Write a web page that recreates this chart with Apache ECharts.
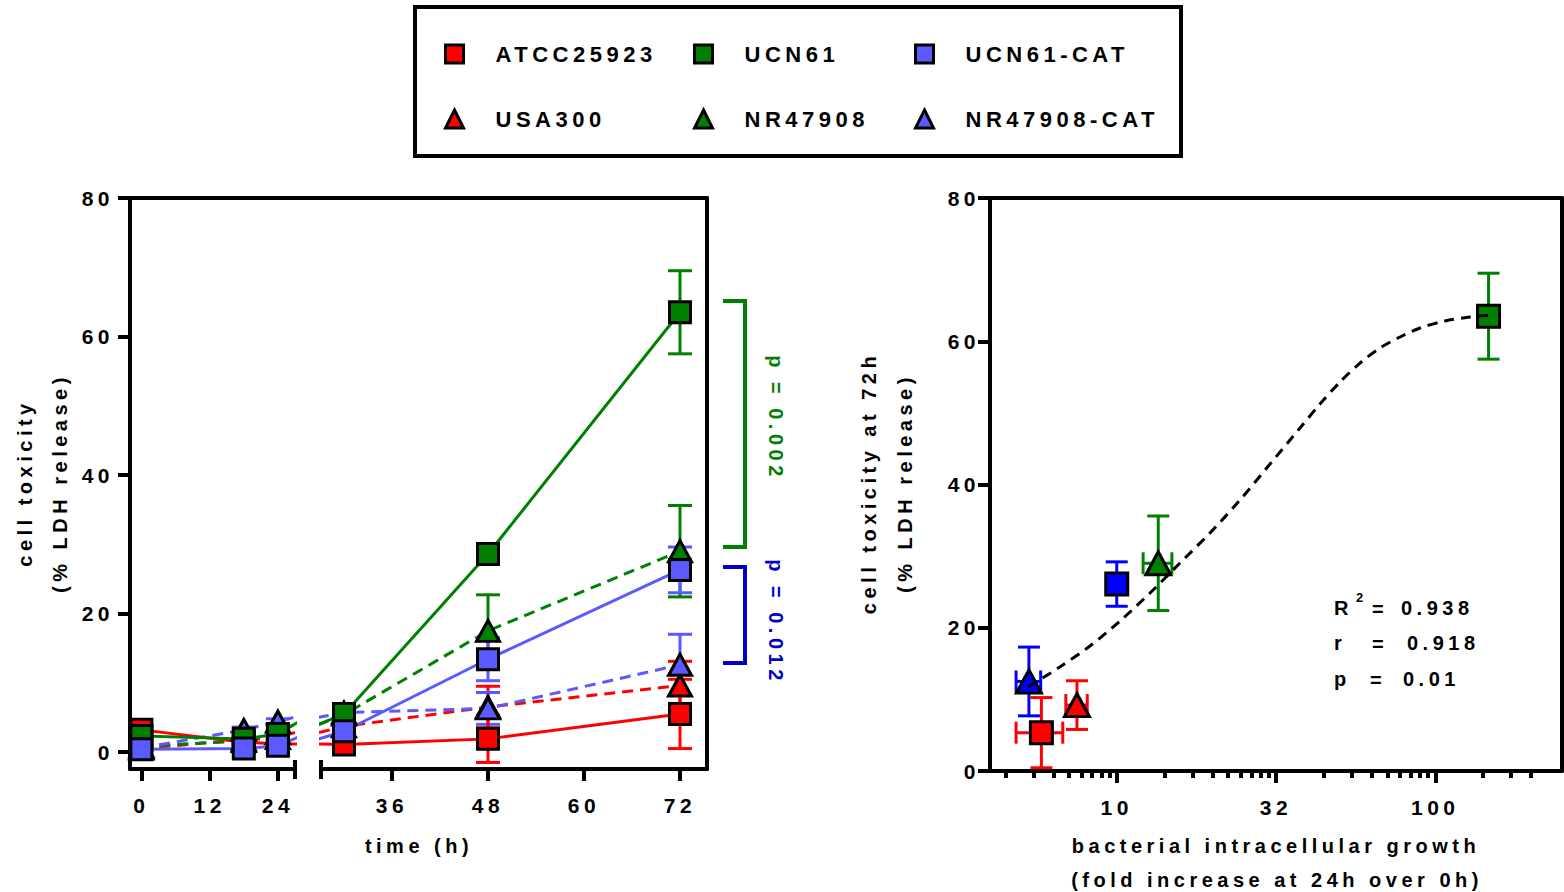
<!DOCTYPE html>
<html><head><meta charset="utf-8">
<script src="https://cdn.jsdelivr.net/npm/echarts@6/dist/echarts.min.js"></script>
<style>
html,body{margin:0;padding:0;background:#fff;}
#main{width:1564px;height:892px;}
#main text{letter-spacing:4.5px;}
</style></head><body><div id="main"></div>
<script>
// ---------------- DATA ----------------
const times = [0, 18, 24, 30, 48, 72];
const timeTicksLeft = [0, 12, 24];
const timeTicksRight = [36, 48, 60, 72];
const toxTicks = [0, 20, 40, 60, 80];

const atcc = [3.2, 1.4, 1.2, 1.1, 1.9, 5.5];
const atccErr = [0.6, 0.4, 0.4, 0.4, 3.4, 5.0];
const ucn61 = [2.3, 1.9, 2.6, 5.5, 28.6, 63.5];
const ucn61Err = [0.5, 0.4, 0.5, 1.3, 1.0, 6.0];
const ucn61cat = [0.4, 0.5, 0.9, 3.0, 13.4, 26.3];
const ucn61catErr = [0.3, 0.3, 0.3, 0.5, 3.1, 3.3];
const usa300 = [0.5, 1.8, 2.0, 3.7, 6.5, 9.6];
const usa300Err = [0.3, 0.4, 0.4, 0.6, 3.0, 3.5];
const nr47908 = [0.85, 1.6, 2.7, 5.4, 17.5, 29.0];
const nr47908Err = [0.3, 0.4, 0.5, 1.0, 5.2, 6.6];
const nr47908cat = [0.6, 3.2, 4.4, 5.7, 6.3, 12.6];
const nr47908catErr = [0.3, 0.4, 0.4, 0.5, 2.3, 4.4];

// right panel: fold increase (x) vs toxicity at 72h (y)
const rightNames = ['ATCC25923', 'USA300', 'NR47908-CAT', 'UCN61-CAT', 'NR47908', 'UCN61'];
const foldGrowth = [5.8, 7.5, 5.3, 10.0, 13.5, 147];
const foldGrowthErr = [0.97, 0.58, 0.47, 0.4, 1.4, 5];
const tox72 = [5.35, 9.2, 12.5, 26.1, 29.0, 63.5];
const tox72Err = [4.9, 3.4, 4.8, 3.1, 6.6, 6.0];
const growthTicks = [10, 31.62, 100];
const growthTickLabels = ['10', '32', '100'];

// fitted curve
const fitX = [5.27, 6.63, 8.24, 10.24, 12.72, 15.8, 19.62, 24.38, 30.29, 37.62, 43.46, 50.23, 58.05, 67.09, 77.52, 89.6, 107.3, 128.6, 146.5];
const fitY = [11.73, 14.52, 17.45, 20.94, 24.85, 29.04, 33.23, 37.84, 42.86, 47.89, 51.24, 54.31, 56.96, 59.06, 60.59, 61.85, 62.83, 63.38, 63.59];

const legendCols = [['ATCC25923', 'USA300'], ['UCN61', 'NR47908'], ['UCN61-CAT', 'NR47908-CAT']];

// ---------------- STYLE ----------------
const FONT = 'Liberation Sans';
const RED = '#FF0000', GREEN = '#008000', LBLUE = '#5A5AFF', DBLUE = '#0000FF';
const leftColor = {'ATCC25923': RED, 'USA300': RED, 'UCN61': GREEN, 'NR47908': GREEN, 'UCN61-CAT': LBLUE, 'NR47908-CAT': LBLUE};
const rightColor = {'ATCC25923': RED, 'USA300': RED, 'UCN61': GREEN, 'NR47908': GREEN, 'UCN61-CAT': DBLUE, 'NR47908-CAT': DBLUE};
const symOf = {'ATCC25923': 'rect', 'UCN61': 'rect', 'UCN61-CAT': 'rect', 'USA300': 'triangle', 'NR47908': 'triangle', 'NR47908-CAT': 'triangle'};

const leftSets = [
  {name: 'USA300', mean: usa300, err: usa300Err},
  {name: 'NR47908', mean: nr47908, err: nr47908Err},
  {name: 'NR47908-CAT', mean: nr47908cat, err: nr47908catErr},
  {name: 'ATCC25923', mean: atcc, err: atccErr},
  {name: 'UCN61', mean: ucn61, err: ucn61Err},
  {name: 'UCN61-CAT', mean: ucn61cat, err: ucn61catErr}
];

const minorTicks = [];
for (let k = 1; k <= 4; k++) for (let m = 2; m <= 9; m++) {
  const v = Math.pow(10, k / 2) * Math.sqrt(m);
  if (v > 4 && v <= 201) minorTicks.push(v);
}

function yErr(capHalf, lw) {
  return function (params, api) {
    const x = api.value(0), y = api.value(1), e = api.value(2);
    const p = api.coord([x, y]), t = api.coord([x, y + e]), b = api.coord([x, y - e]);
    const st = {stroke: api.visual('color'), lineWidth: lw, fill: null};
    return {type: 'group', children: [
      {type: 'line', shape: {x1: p[0], y1: t[1], x2: p[0], y2: b[1]}, style: st},
      {type: 'line', shape: {x1: p[0] - capHalf, y1: t[1], x2: p[0] + capHalf, y2: t[1]}, style: st},
      {type: 'line', shape: {x1: p[0] - capHalf, y1: b[1], x2: p[0] + capHalf, y2: b[1]}, style: st}
    ]};
  };
}
function xErr(capHalf, lw) {
  return function (params, api) {
    const x = api.value(0), y = api.value(1), e = api.value(2);
    const p = api.coord([x, y]), l = api.coord([x - e, y]), r = api.coord([x + e, y]);
    const st = {stroke: api.visual('color'), lineWidth: lw, fill: null};
    return {type: 'group', children: [
      {type: 'line', shape: {x1: l[0], y1: p[1], x2: r[0], y2: p[1]}, style: st},
      {type: 'line', shape: {x1: l[0], y1: p[1] - capHalf, x2: l[0], y2: p[1] + capHalf}, style: st},
      {type: 'line', shape: {x1: r[0], y1: p[1] - capHalf, x2: r[0], y2: p[1] + capHalf}, style: st}
    ]};
  };
}

const axisLine = {show: true, onZero: false, lineStyle: {color: '#000', width: 4, cap: 'round'}};
const noTick = {show: false};
const noLabel = {show: false};
const noSplit = {show: false};
const lbl = {color: '#000', fontFamily: FONT, fontWeight: 'bold', fontSize: 21};
const tickStyle = {color: '#000', width: 4};

// ---------------- SERIES ----------------
const series = [];
[0, 1].forEach(g => leftSets.forEach(s => {
  const pts = times.map((t, i) => [t, s.mean[i]]).filter(p => g === 0 ? p[0] <= 27 : p[0] >= 27);
  series.push({
    type: 'scatter', name: s.name, xAxisIndex: g, yAxisIndex: g, data: pts,
    symbol: symOf[s.name], symbolSize: symOf[s.name] === 'rect' ? [21, 21] : [23, 21],
    itemStyle: {color: leftColor[s.name], borderColor: '#000', borderWidth: 3, opacity: 1},
    z: 5, silent: true
  });
}));
[0, 1].forEach(g => leftSets.forEach(s => {
  series.push({
    type: 'line', name: s.name, xAxisIndex: g, yAxisIndex: g,
    data: times.map((t, i) => [t, s.mean[i]]),
    symbol: 'none', showSymbol: false, clip: true,
    lineStyle: {color: leftColor[s.name], width: 3, type: symOf[s.name] === 'triangle' ? [11, 7] : 'solid'},
    z: 2, silent: true
  });
  const epts = times.map((t, i) => [t, s.mean[i], s.err[i]]).filter(p => g === 0 ? p[0] <= 27 : p[0] >= 27);
  series.push({
    type: 'custom', name: s.name, xAxisIndex: g, yAxisIndex: g, data: epts,
    encode: {x: 0, y: 1}, renderItem: yErr(12, 3),
    itemStyle: {color: leftColor[s.name]}, z: 3, silent: true
  });
}));
rightNames.forEach((n, i) => {
  series.push({
    type: 'custom', name: n, xAxisIndex: 3, yAxisIndex: 3,
    data: [[foldGrowth[i], tox72[i], tox72Err[i]]], encode: {x: 0, y: 1},
    renderItem: yErr(11, 3), itemStyle: {color: rightColor[n]}, z: 3, silent: true
  });
  series.push({
    type: 'custom', name: n, xAxisIndex: 3, yAxisIndex: 3,
    data: [[foldGrowth[i], tox72[i], foldGrowthErr[i]]], encode: {x: 0, y: 1},
    renderItem: xErr(11, 3), itemStyle: {color: rightColor[n]}, z: 3, silent: true
  });
  series.push({
    type: 'scatter', name: n, xAxisIndex: 3, yAxisIndex: 3,
    data: [[foldGrowth[i], tox72[i]]],
    symbol: symOf[n], symbolSize: symOf[n] === 'rect' ? [22, 22] : [25, 23],
    itemStyle: {color: rightColor[n], borderColor: '#000', borderWidth: 3, opacity: 1},
    z: 5, silent: true
  });
});
series.push({
  type: 'line', name: 'fit', xAxisIndex: 3, yAxisIndex: 3,
  data: fitX.map((x, i) => [x, fitY[i]]), smooth: 0.3,
  symbol: 'none', showSymbol: false,
  lineStyle: {color: '#000', width: 3, type: [10, 7]}, z: 6, silent: true
});

// ---------------- TEXT / ANNOTATIONS ----------------
const tf = (size) => ({fontFamily: FONT, fontWeight: 'bold', fontSize: size});
function txt(x, y, text, opt) {
  opt = opt || {};
  return {type: 'text', x: x, y: y, rotation: opt.rot || 0, silent: true,
    style: Object.assign({text: text, fill: opt.fill || '#000', align: opt.align || 'center', verticalAlign: 'middle'}, tf(opt.size || 20))};
}
const graphic = [
  {type: 'rect', shape: {x: 415, y: 7, width: 766, height: 149}, style: {fill: null, stroke: '#000', lineWidth: 4}, silent: true},
  txt(25, 483, 'cell toxicity', {rot: Math.PI / 2}),
  txt(60, 483, '(% LDH release)', {rot: Math.PI / 2}),
  txt(419, 846, 'time (h)'),
  txt(869, 483, 'cell toxicity at 72h', {rot: Math.PI / 2}),
  txt(905, 483, '(% LDH release)', {rot: Math.PI / 2}),
  txt(1276, 846, 'bacterial intracellular growth'),
  txt(1277, 880, '(fold increase at 24h over 0h)'),
  txt(776, 418, 'p = 0.002', {rot: -Math.PI / 2, fill: GREEN}),
  txt(776, 622, 'p = 0.012', {rot: -Math.PI / 2, fill: '#0000C8'}),
  {type: 'polyline', shape: {points: [[723, 301], [745, 301], [745, 547], [723, 547]]}, style: {stroke: GREEN, lineWidth: 4, fill: null}, silent: true},
  {type: 'polyline', shape: {points: [[723, 567], [745, 567], [745, 663], [723, 663]]}, style: {stroke: '#0000C8', lineWidth: 4, fill: null}, silent: true},
  {type: 'line', shape: {x1: 295, y1: 760, x2: 295, y2: 779}, style: {stroke: '#000', lineWidth: 4}, silent: true},
  {type: 'line', shape: {x1: 321, y1: 760, x2: 321, y2: 779}, style: {stroke: '#000', lineWidth: 4}, silent: true},
  txt(1334, 608, 'R', {align: 'left'}),
  txt(1356, 597, '2', {align: 'left', size: 13}),
  txt(1372, 609, '=', {align: 'left'}),
  txt(1401, 608, '0.938', {align: 'left'}),
  txt(1334, 643, 'r', {align: 'left'}),
  txt(1372, 644, '=', {align: 'left'}),
  txt(1407, 643, '0.918', {align: 'left'}),
  txt(1334, 679, 'p', {align: 'left'}),
  txt(1370, 680, '=', {align: 'left'}),
  txt(1403, 679, '0.01', {align: 'left'})
];

const legendLefts = [444, 693, 914];
const legend = legendCols.map((col, c) => ({
  orient: 'vertical', left: legendLefts[c], top: 43, padding: 0,
  itemWidth: 18, itemHeight: 18, itemGap: 43,
  selectedMode: false,
  data: col.map(n => ({name: n, icon: symOf[n] === 'rect' ? 'rect' : 'triangle',
    itemStyle: {color: leftColor[n], borderColor: '#000', borderWidth: 3}})),
  textStyle: {color: '#000', fontFamily: FONT, fontWeight: 'bold', fontSize: 22, padding: [0, 0, 0, 27]}
}));

const option = {
  animation: false,
  backgroundColor: '#fff',
  legend: legend,
  grid: [
    {left: 130, top: 198, width: 165, height: 571, outerBoundsMode: 'none'},
    {left: 321, top: 198, width: 386, height: 571, outerBoundsMode: 'none'},
    {left: 130, top: 198, width: 577, height: 571, outerBoundsMode: 'none'},
    {left: 990, top: 198, width: 572, height: 573, outerBoundsMode: 'none'}
  ],
  xAxis: [
    {gridIndex: 0, type: 'value', min: -2, max: 27, axisLine: axisLine,
      axisTick: {show: true, length: 12, lineStyle: tickStyle, customValues: timeTicksLeft},
      axisLabel: Object.assign({margin: 26, customValues: timeTicksLeft}, lbl), splitLine: noSplit},
    {gridIndex: 1, type: 'value', min: 27.125, max: 75.375, axisLine: axisLine,
      axisTick: {show: true, length: 12, lineStyle: tickStyle, customValues: timeTicksRight},
      axisLabel: Object.assign({margin: 26, customValues: timeTicksRight}, lbl), splitLine: noSplit},
    {gridIndex: 2, type: 'value', position: 'top', min: 0, max: 1, axisLine: axisLine, axisTick: noTick, axisLabel: noLabel, splitLine: noSplit},
    {gridIndex: 3, type: 'log', logBase: 10, min: 4, max: 250, axisLine: axisLine,
      axisTick: {show: true, length: 12, lineStyle: tickStyle, customValues: growthTicks},
      axisLabel: Object.assign({margin: 26, customValues: growthTicks,
        formatter: v => growthTickLabels[growthTicks.findIndex(g => Math.abs(g - v) / g < 0.01)] || ''}, lbl),
      splitLine: noSplit, minorTick: {show: false}},
    {gridIndex: 3, type: 'log', logBase: 10, min: 4, max: 250, position: 'bottom', offset: 0,
      axisLine: {show: false, onZero: false},
      axisTick: {show: true, length: 7, lineStyle: tickStyle, customValues: minorTicks},
      axisLabel: noLabel, splitLine: noSplit},
    {gridIndex: 3, type: 'value', position: 'top', min: 0, max: 1, axisLine: axisLine, axisTick: noTick, axisLabel: noLabel, splitLine: noSplit}
  ],
  yAxis: [
    {gridIndex: 0, type: 'value', min: -2.45, max: 80, axisLine: axisLine,
      axisTick: {show: true, length: 12, lineStyle: tickStyle, customValues: toxTicks},
      axisLabel: Object.assign({margin: 16, customValues: toxTicks}, lbl), splitLine: noSplit},
    {gridIndex: 1, type: 'value', min: -2.45, max: 80, show: false, splitLine: noSplit},
    {gridIndex: 2, type: 'value', position: 'right', min: 0, max: 1, axisLine: axisLine, axisTick: noTick, axisLabel: noLabel, splitLine: noSplit},
    {gridIndex: 3, type: 'value', min: 0, max: 80, axisLine: axisLine,
      axisTick: {show: true, length: 12, lineStyle: tickStyle, customValues: toxTicks},
      axisLabel: Object.assign({margin: 10, customValues: toxTicks}, lbl), splitLine: noSplit},
    {gridIndex: 3, type: 'value', position: 'right', min: 0, max: 1, axisLine: axisLine, axisTick: noTick, axisLabel: noLabel, splitLine: noSplit}
  ],
  graphic: graphic,
  series: series
};

const chart = echarts.init(document.getElementById('main'), null, {renderer: 'svg'});
chart.setOption(option);
</script>
</body></html>
